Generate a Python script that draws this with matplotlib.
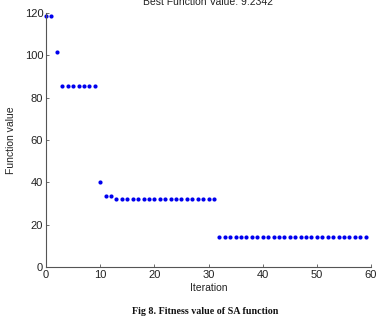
import matplotlib
matplotlib.use("Agg")
import matplotlib.pyplot as plt

iterations = list(range(0, 60))
values = ([118.5, 118.5, 101.5, 85.6] + [85.3] * 6 + [40.0, 33.5, 33.5]
          + [32.0] * 19 + [14.0] * 28)

x_ticks = [0, 10, 20, 30, 40, 50, 60]
y_ticks = [0, 20, 40, 60, 80, 100, 120]

plt.rcParams['font.family'] = ['Liberation Sans', 'DejaVu Sans']

fig = plt.figure(figsize=(3.89, 3.19), dpi=100)
ax = fig.add_axes([46/389, 1-267/319, (371-46)/389, (267-13)/319])

ax.plot(iterations, values, linestyle='none', marker='o', markersize=3.0,
        color='#0000ee', markeredgewidth=0, clip_on=False)

ax.set_xlim(0, 60)
ax.set_ylim(0, 120)
ax.set_xticks(x_ticks)
ax.set_yticks(y_ticks)
for s in ['top', 'right']:
    ax.spines[s].set_visible(False)
for s in ['left', 'bottom']:
    ax.spines[s].set_color('#555555')
    ax.spines[s].set_linewidth(0.8)
ax.tick_params(direction='in', length=2.5, width=0.6, colors='#555555',
               labelcolor='#222222', labelsize=8, pad=2)
ax.set_xlabel('Iteration', fontsize=7.5, color='#222222', labelpad=2)
ax.set_ylabel('Function value', fontsize=7.5, color='#222222', labelpad=6)

fig.text(208/389, 1-7/319, 'Best Function Value: 9.2342', ha='center',
         va='bottom', fontsize=7.5, color='#222222')

fig.text(205/389, 1-312/319, 'Fig 8. Fitness value of SA function',
         ha='center', va='center', fontsize=7.2, fontweight='bold',
         family=['Liberation Serif', 'DejaVu Serif'], color='#111111')

fig.savefig('out.png', dpi=100)
